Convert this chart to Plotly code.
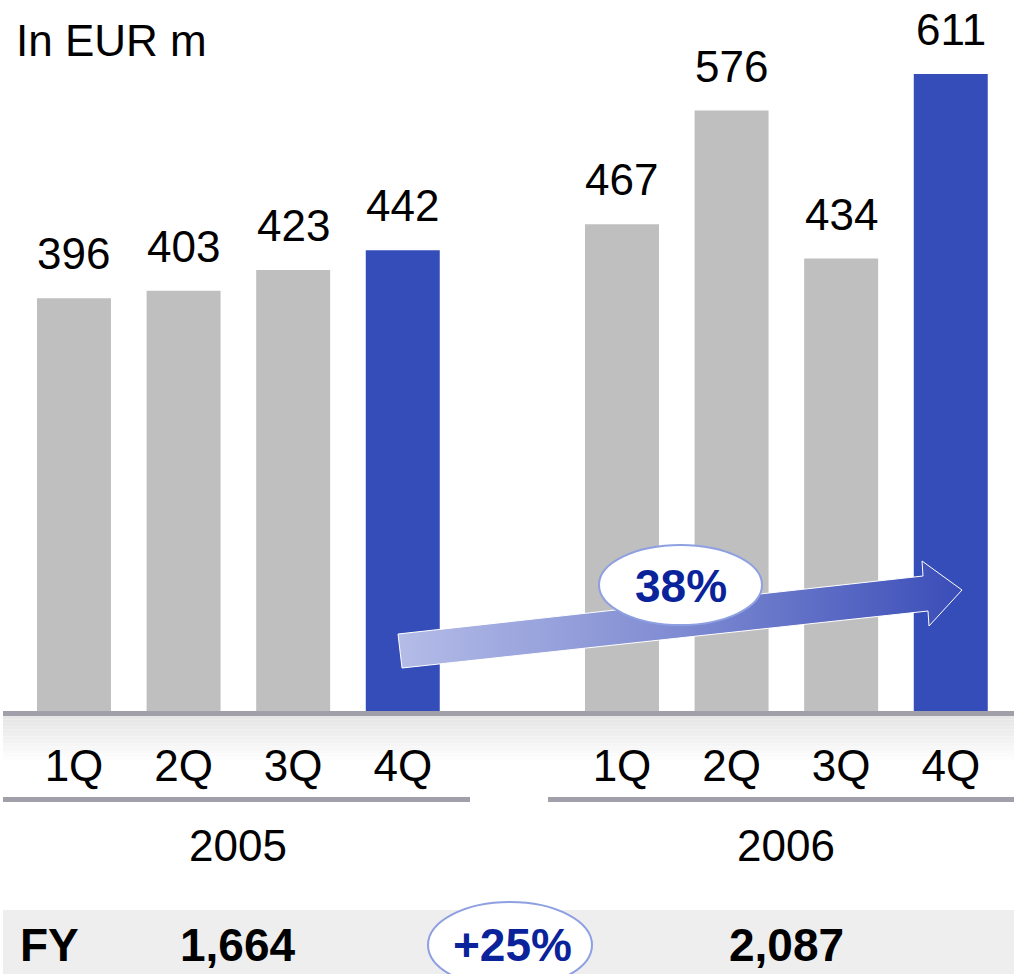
# %%
import plotly.graph_objects as go

# %%
# Datos
quarters = ['1Q', '2Q', '3Q', '4Q', '1Q', '2Q', '3Q', '4Q']
positions = [0, 1, 2, 3, 5, 6, 7, 8]          # hueco entre 2005 y 2006
values = [396, 403, 423, 442, 467, 576, 434, 611]
years = ['2005', '2006']
year_centers = [1.5, 6.5]
fy_totals = ['1,664', '2,087']
fy_growth = '+25%'
q4_growth = '38%'

# %%
W, H = 1014, 974
PLOT_BOTTOM = 716          # borde inferior del area de datos (px)
GRAY = '#BFBFBF'
BLUE = '#344DB8'
LINE_GRAY = '#A09FAA'
DARK_BLUE = '#0A239B'
FONT = 'Liberation Sans, Arial, sans-serif'

X_RANGE = [-0.675, 8.577]
Y_RANGE = [-4.8, 682.0]


def px_x(px):       # pixel -> eje x
    return X_RANGE[0] + px / W * (X_RANGE[1] - X_RANGE[0])


def py_y(py):       # pixel -> eje y
    return Y_RANGE[1] - py / PLOT_BOTTOM * (Y_RANGE[1] - Y_RANGE[0])


def py_paper(py):   # pixel -> paper y
    return (PLOT_BOTTOM - py) / PLOT_BOTTOM


colors = [BLUE if q == '4Q' else GRAY for q in quarters]

fig = go.Figure()

fig.add_trace(go.Bar(x=positions, y=values,
                     marker=dict(color=colors, line_width=0),
                     hoverinfo='skip', showlegend=False))

# Flecha con degradado (4Q 2005 -> 4Q 2006)
ax = [398, 923, 922, 962, 929, 928, 402, 398]
ay = [634, 576, 561, 590, 626, 611, 668, 634]
fig.add_trace(go.Scatter(x=[px_x(v) for v in ax], y=[py_y(v) for v in ay],
                         mode='lines', fill='toself',
                         line=dict(color='white', width=1),
                         fillgradient=dict(type='horizontal',
                                           colorscale=[[0, '#B4BCE7'], [0.5, '#7F8BD2'], [1, '#3A4DB8']]),
                         hoverinfo='skip', showlegend=False))

shapes = []
# Banda degradada bajo el eje
n = 14
for i in range(n):
    c = int(230 + (255 - 230) * i / (n - 1))
    shapes.append(dict(type='rect', xref='paper', yref='paper', layer='below',
                       x0=3 / W, x1=1, y0=py_paper(716 + i * 3.4), y1=py_paper(716 + (i + 1) * 3.4),
                       fillcolor=f'rgb({c},{c},{c})', line_width=0))
# Linea base
shapes.append(dict(type='rect', xref='paper', yref='paper', x0=3 / W, x1=1,
                   y0=py_paper(716), y1=py_paper(711), fillcolor=LINE_GRAY, line_width=0))
# Separadores de año
for x0, x1 in [(3, 470), (548, 1014)]:
    shapes.append(dict(type='rect', xref='paper', yref='paper', x0=x0 / W, x1=x1 / W,
                       y0=py_paper(802), y1=py_paper(797), fillcolor=LINE_GRAY, line_width=0))
# Fila FY
shapes.append(dict(type='rect', xref='paper', yref='paper', layer='below', x0=3 / W, x1=1,
                   y0=py_paper(974), y1=py_paper(910), fillcolor='#EEEEEE', line_width=0))
shapes.append(dict(type='circle', xref='paper', yref='paper', x0=428 / W, x1=592 / W,
                   y0=py_paper(988), y1=py_paper(902), fillcolor='white',
                   line=dict(color='#8E9FE2', width=2)))
# Elipse 38%
shapes.append(dict(type='circle', xref='x', yref='y', x0=px_x(599), x1=px_x(762),
                   y0=py_y(625), y1=py_y(545), fillcolor='white',
                   line=dict(color='#8E9FE2', width=2)))

annotations = []
for x, v in zip(positions, values):
    annotations.append(dict(x=x, y=v, xref='x', yref='y', text=str(v), showarrow=False,
                            yanchor='bottom', yshift=18, font=dict(family=FONT, size=44, color='black')))
for x, t in zip(year_centers, years):
    annotations.append(dict(x=x, y=py_paper(845), xref='x', yref='paper', text=t, showarrow=False,
                            yanchor='middle', font=dict(family=FONT, size=44, color='black')))
annotations.append(dict(x=14 / W, y=py_paper(40), xref='paper', yref='paper', text='In EUR m',
                        showarrow=False, xanchor='left', yanchor='middle',
                        font=dict(family=FONT, size=44, color='black')))
annotations.append(dict(x=px_x(681), y=py_y(586), xref='x', yref='y', text='<b>' + q4_growth + '</b>',
                        showarrow=False, yanchor='middle', font=dict(family=FONT, size=46, color=DARK_BLUE)))
# FY
annotations.append(dict(x=18 / W, y=py_paper(945), xref='paper', yref='paper', text='<b>FY</b>',
                        showarrow=False, xanchor='left', yanchor='middle',
                        font=dict(family=FONT, size=46, color='black')))
for x, t in zip(year_centers, fy_totals):
    annotations.append(dict(x=x, y=py_paper(945), xref='x', yref='paper', text='<b>' + t + '</b>',
                            showarrow=False, yanchor='middle', font=dict(family=FONT, size=46, color='black')))
annotations.append(dict(x=4, y=py_paper(945), xref='x', yref='paper', text='<b>' + fy_growth + '</b>',
                        showarrow=False, yanchor='middle', font=dict(family=FONT, size=46, color=DARK_BLUE)))

fig.update_layout(width=W, height=H,
                  margin=dict(l=0, r=0, t=0, b=H - PLOT_BOTTOM, pad=0),
                  paper_bgcolor='white', plot_bgcolor='white',
                  bargap=0.325,
                  xaxis=dict(range=X_RANGE, tickvals=positions, ticktext=quarters,
                             showgrid=False, zeroline=False, showline=False, ticks='',
                             ticklabelstandoff=20,
                             tickfont=dict(family=FONT, size=44, color='black'), fixedrange=True),
                  yaxis=dict(range=Y_RANGE, visible=False, fixedrange=True),
                  shapes=shapes, annotations=annotations)

# sin margen del body para que la figura ocupe toda la ventana
fig.write_html('out.html', config={'displayModeBar': False},
               post_script="document.body.style.margin='0';")
